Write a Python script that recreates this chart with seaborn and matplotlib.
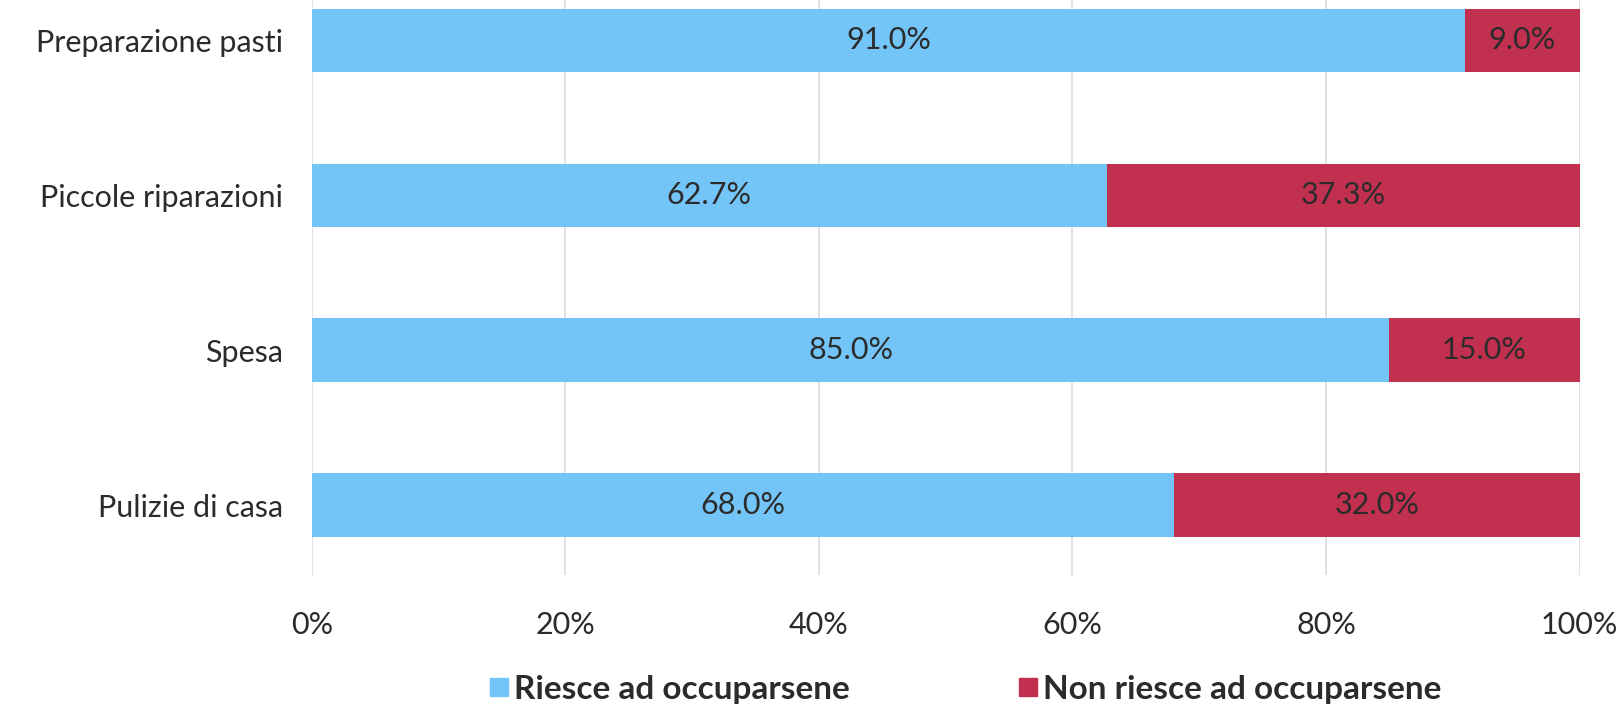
import numpy as np
import pandas as pd
import seaborn as sns
import matplotlib.pyplot as plt
from matplotlib.lines import Line2D

# Data
categories = ['Preparazione pasti', 'Piccole riparazioni', 'Spesa', 'Pulizie di casa']
riesce = [91.0, 62.7, 85.0, 68.0]
non_riesce = [9.0, 37.3, 15.0, 32.0]
series_names = ['Riesce ad occuparsene', 'Non riesce ad occuparsene']
x_ticks = [0, 20, 40, 60, 80, 100]

BLUE = '#74C5F7'
RED = '#C2304F'
TEXT = '#2b2b2b'
FS = 22

sns.set_theme(style='white')
plt.rcParams['font.family'] = ['Lato', 'DejaVu Sans']

df = pd.DataFrame({'cat': categories, 'riesce': riesce, 'non': non_riesce})
df['total'] = df['riesce'] + df['non']

fig = plt.figure(figsize=(16.24, 7.06), dpi=100)
ax = fig.add_axes([0.192, 0.1856, 0.7806, 0.8144])

# stacked: total in red underneath, blue on top
sns.barplot(data=df, x='total', y='cat', orient='h', color=RED, width=0.41,
            saturation=1, linewidth=0, ax=ax, zorder=2)
sns.barplot(data=df, x='riesce', y='cat', orient='h', color=BLUE, width=0.41,
            saturation=1, linewidth=0, ax=ax, zorder=3)

# labels in the middle of each segment
for i, (r, n) in enumerate(zip(riesce, non_riesce)):
    ax.text(r / 2, i, f'{r:.1f}%', ha='center', va='center', fontsize=FS, color=TEXT, zorder=4)
    ax.text(r + n / 2, i, f'{n:.1f}%', ha='center', va='center', fontsize=FS, color=TEXT, zorder=4)

ax.set_xlim(0, 100)
ax.set_ylim(3.45, -0.26)
ax.set_xticks(x_ticks)
ax.set_xticklabels([f'{t}%' for t in x_ticks], fontsize=FS, color=TEXT)
ax.tick_params(axis='x', pad=26, length=0)
ax.tick_params(axis='y', pad=21, length=0, labelsize=FS, labelcolor=TEXT)
ax.set_xlabel('')
ax.set_ylabel('')
ax.grid(axis='x', color='#dcdcdc', linewidth=1.2, zorder=0)
ax.grid(axis='y', visible=False)
sns.despine(ax=ax, left=True, bottom=True)

handles = [Line2D([], [], marker='s', linestyle='none', markersize=13, color=c)
           for c in [BLUE, RED]]
fig.legend(handles, series_names, loc='center', bbox_to_anchor=(0.593, 0.024),
           ncol=2, frameon=False, handletextpad=0.0, handlelength=0.9, columnspacing=4.9,
           prop={'size': 24, 'weight': 'bold'}, labelcolor=TEXT)

fig.savefig('out.png', dpi=100)
